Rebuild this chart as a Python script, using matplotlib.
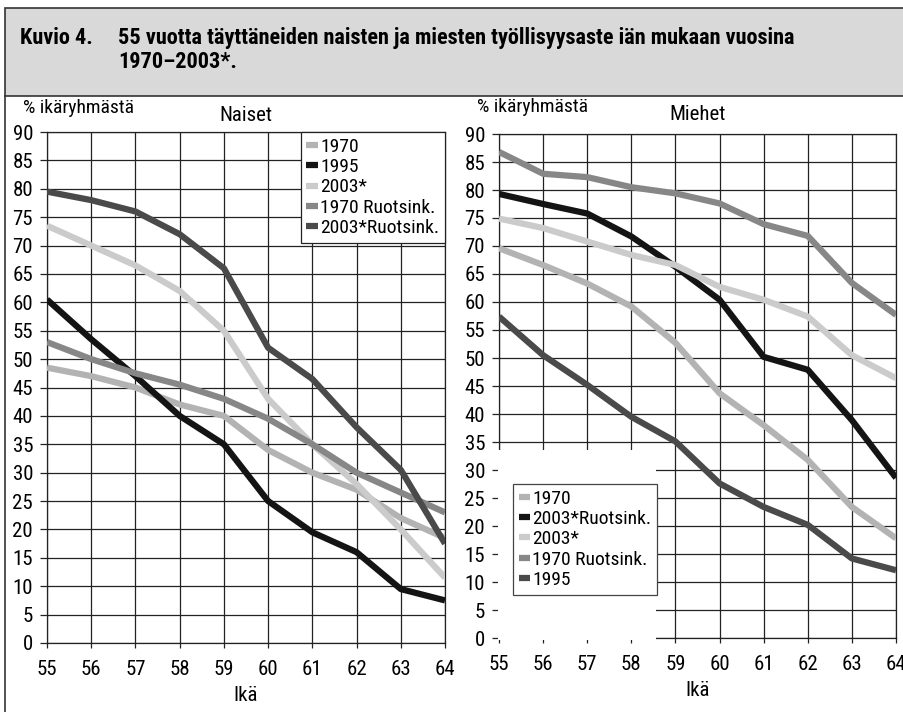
import matplotlib
matplotlib.use('Agg')
from matplotlib import pyplot as plt
from matplotlib.patches import Rectangle
from matplotlib.lines import Line2D
from matplotlib import font_manager

names = set(f.name for f in font_manager.fontManager.ttflist)
narrow = [n for n in ['Roboto Condensed', 'Liberation Sans Narrow'] if n in names]
plt.rcParams['font.family'] = narrow + ['Lato', 'DejaVu Sans']

# data
ika = [55, 56, 57, 58, 59, 60, 61, 62, 63, 64]

# Naiset
n_1970 = [48.5, 47, 45, 42, 40, 34, 30, 27, 22, 18.5]
n_1995 = [60.5, 53.5, 47, 40, 35, 25, 19.5, 16, 9.5, 7.5]
n_2003 = [73.5, 70, 66.5, 62, 55, 43, 35, 28, 20, 11.5]
n_1970_ruotsi = [53, 50, 47.5, 45.5, 43, 39.5, 35, 30, 26.5, 23]
n_2003_ruotsi = [79.5, 78, 76, 72, 66, 52, 46.5, 38, 30.5, 17.5]

# Miehet
m_1970 = [69.6, 66.6, 63.3, 59.2, 52.7, 43.7, 38, 31.8, 23.4, 17.8]
m_2003_ruotsi = [79.3, 77.5, 75.8, 71.7, 66.3, 60.4, 50.2, 47.9, 38.9, 28.6]
m_2003 = [74.9, 73.2, 70.8, 68.4, 66.6, 62.7, 60.4, 57.4, 50.5, 46.4]
m_1970_ruotsi = [86.8, 82.9, 82.3, 80.5, 79.4, 77.6, 73.9, 71.8, 63.4, 57.7]
m_1995 = [57.4, 50.5, 45.2, 39.5, 35.1, 27.6, 23.4, 20.2, 14.2, 12.1]

c_1970 = '#b3b3b3'
c_black = '#141414'
c_2003 = '#cbcbcb'
c_mid = '#878787'
c_dark = '#4a4a4a'

naiset = [('1970', n_1970, c_1970), ('1995', n_1995, c_black), ('2003*', n_2003, c_2003),
          ('1970 Ruotsink.', n_1970_ruotsi, c_mid), ('2003*Ruotsink.', n_2003_ruotsi, c_dark)]
miehet = [('1970', m_1970, c_1970), ('2003*Ruotsink.', m_2003_ruotsi, c_black), ('2003*', m_2003, c_2003),
          ('1970 Ruotsink.', m_1970_ruotsi, c_mid), ('1995', m_1995, c_dark)]

fig = plt.figure(figsize=(9.04, 7.12), dpi=100)

# header band
fig.patches.append(Rectangle((5/904, 1-96/712), 1, 88/712, transform=fig.transFigure,
                             facecolor='#d9d9d9', edgecolor='#333333', linewidth=1.2))
fig.add_artist(Line2D([5/904, 5/904], [0, 1-96/712], color='#333333', lw=1.2))
fig.text(20/904, 1-38/712, 'Kuvio 4.', fontsize=16, fontweight='bold', va='center')
fig.text(118/904, 1-38/712, '55 vuotta täyttäneiden naisten ja miesten työllisyysaste iän mukaan vuosina',
         fontsize=16, fontweight='bold', va='center')
fig.text(118/904, 1-62/712, '1970–2003*.', fontsize=16, fontweight='bold', va='center')

ax1 = fig.add_axes([47/904, 1-643/712, 398/904, 511/712])
ax2 = fig.add_axes([499/904, 1-638/712, 397/904, 504/712])

for ax, series, title, ty, ly, lx in [(ax1, naiset, 'Naiset', 1.033, 1.047, -0.060),
                                      (ax2, miehet, 'Miehet', 1.038, 1.054, -0.055)]:
    for lab, vals, col in series:
        ax.plot(ika, vals, color=col, lw=4.5, label=lab, solid_capstyle='butt', zorder=3)
    ax.set_xlim(55, 64)
    ax.set_ylim(0, 90)
    ax.set_xticks(ika)
    ax.set_yticks(range(0, 91, 5))
    ax.grid(True, color='#222222', lw=0.9)
    for s in ax.spines.values():
        s.set_color('#222222')
        s.set_linewidth(0.9)
    ax.tick_params(labelsize=15, width=0.9, color='#222222')
    ax.tick_params(axis='x', length=3.5, pad=9)
    ax.tick_params(axis='y', length=5, pad=5)
    ax.set_xlabel('Ikä', fontsize=15, labelpad=5)
    ax.text(0.5, ty, title, transform=ax.transAxes, ha='center', va='center', fontsize=15)
    ax.text(lx, ly, '% ikäryhmästä', transform=ax.transAxes, ha='left', va='center', fontsize=14)

leg1 = ax1.legend(loc='upper right', bbox_to_anchor=(1, 1), borderaxespad=0, fontsize=14,
                  handlelength=0.6, handletextpad=0.1, labelspacing=0.12, borderpad=0.3,
                  fancybox=False, framealpha=1, edgecolor='#222222')
leg1.get_frame().set_linewidth(0.9)

# white area behind the men's legend
ax2.add_patch(Rectangle((54.97, -0.3), 3.6, 33.8, facecolor='white', edgecolor='none',
                        clip_on=False, zorder=2.6))
leg2 = ax2.legend(loc='upper left', bbox_to_anchor=(0.035, 0.306), borderaxespad=0, fontsize=14,
                  handlelength=0.6, handletextpad=0.1, labelspacing=0.12, borderpad=0.3,
                  fancybox=False, framealpha=1, edgecolor='#444444')
leg2.get_frame().set_linewidth(0.9)

plt.savefig('out.png', dpi=100)
